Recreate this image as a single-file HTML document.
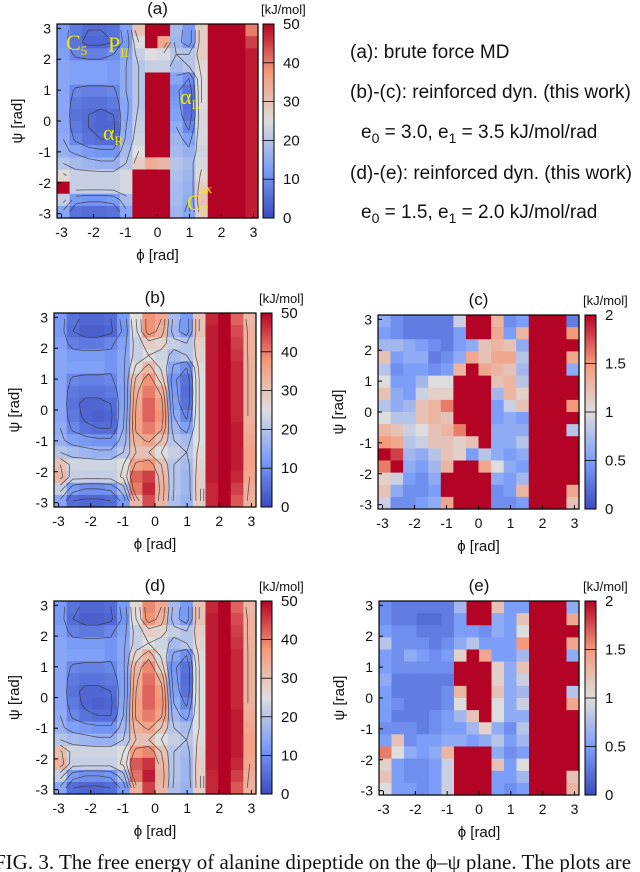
<!DOCTYPE html>
<html><head><meta charset="utf-8"><style>
html,body{margin:0;padding:0;background:#fff;}
svg{display:block;font-family:"Liberation Sans",sans-serif;}
</style></head><body>
<svg id="fig" width="640" height="872" viewBox="0 0 640 872" xmlns="http://www.w3.org/2000/svg">
<g font-size="19" fill="#111">
<text x="350" y="58">(a): brute force MD</text>
<text x="350" y="98">(b)-(c): reinforced dyn. (this work)</text>
<text x="361" y="138">e<tspan font-size="14" dy="5">0</tspan><tspan dy="-5"> = 3.0, e</tspan><tspan font-size="14" dy="5">1</tspan><tspan dy="-5"> = 3.5 kJ/mol/rad</tspan></text>
<text x="350" y="179">(d)-(e): reinforced dyn. (this work)</text>
<text x="361" y="218">e<tspan font-size="14" dy="5">0</tspan><tspan dy="-5"> = 1.5, e</tspan><tspan font-size="14" dy="5">1</tspan><tspan dy="-5"> = 2.0 kJ/mol/rad</tspan></text>
</g>
<text x="-6" y="869" font-family="Liberation Serif, serif" font-size="21" fill="#111">FIG. 3.  The free energy of alanine dipeptide on the ϕ–ψ plane. The plots are</text>
</svg>
<script>
const fesA=[
[12,7,5,5,6,13,30,50,50,18,12,28,50,50,50,40],
[12,6,4,4,5,12,25,50,35,17,12,28,50,50,50,45],
[13,9,8,8,10,14,22,25,24,20,20,28,50,50,50,48],
[14,13,13,13,12,15,20,22,22,18,20,26,50,50,50,48],
[14,13,13,13,12,15,20,50,50,14,10,25,50,50,50,48],
[14,9,8,8,9,15,20,50,50,11,6,25,50,50,50,48],
[14,7,6,6,7,14,20,50,50,12,5,25,50,50,50,48],
[14,6,5,4,5,14,21,50,50,13,6,24,50,50,50,48],
[14,7,5,4,4,15,22,50,50,15,9,24,50,50,50,48],
[15,9,6,5,5,16,23,50,50,17,13,24,50,50,50,48],
[16,14,12,11,11,18,25,50,50,18,16,23,50,50,50,48],
[20,18,17,16,16,20,28,34,32,20,18,24,50,50,50,48],
[26,22,22,22,22,24,50,50,50,19,17,26,50,50,50,48],
[50,22,22,22,22,24,50,50,50,18,16,28,50,50,50,48],
[22,12,11,11,12,18,50,50,50,18,15,30,50,50,50,48],
[14,6,5,5,6,14,50,50,50,17,14,28,50,50,50,48]];
const fesB=[
[12,6,4,4,5,12,25,38,35,18,12,30,47,50,42,32],
[12,5,3,3,4,11,24,38,33,17,12,30,48,50,44,33],
[13,8,7,7,9,13,22,28,27,22,20,28,48,50,45,33],
[14,12,12,12,11,14,22,25,23,18,20,27,48,50,46,33],
[14,13,13,13,11,14,26,32,24,14,10,26,48,50,47,33],
[14,9,8,8,9,14,31,38,28,11,6,25,48,50,47,33],
[14,7,6,6,7,13,34,40,34,12,5,25,48,50,47,33],
[14,6,4,4,5,13,35,42,37,13,6,25,48,50,47,33],
[14,7,4,3,4,14,36,42,38,15,9,25,48,50,47,33],
[15,9,6,5,5,15,36,40,36,17,13,25,48,50,48,34],
[16,13,12,11,11,17,33,36,30,20,18,25,48,50,48,35],
[20,18,17,16,16,20,30,30,25,22,20,26,48,50,48,36],
[30,23,23,23,23,25,36,38,30,20,18,27,48,50,48,36],
[32,22,22,22,22,26,42,45,32,20,17,28,48,50,47,35],
[22,12,10,10,11,18,40,47,33,20,17,28,47,50,45,34],
[14,5,4,4,5,12,32,44,32,19,16,28,47,50,43,33]];
const fesD=[
[12,6,4,4,5,12,26,39,35,18,12,30,47,50,42,32],
[12,5,3,3,4,11,25,38,33,17,12,30,48,50,44,33],
[13,8,7,7,9,13,22,28,27,22,20,28,48,50,45,33],
[14,12,12,12,11,14,22,25,23,18,20,27,48,50,46,33],
[14,13,13,13,11,14,27,33,24,14,10,26,48,50,47,33],
[14,9,8,8,9,14,32,39,28,11,6,25,48,50,47,33],
[14,7,6,6,7,13,34,41,34,12,5,25,48,50,47,33],
[14,6,4,4,5,13,35,42,37,13,6,25,48,50,47,33],
[14,7,4,3,4,14,36,42,38,15,9,25,48,50,47,33],
[15,9,6,5,5,15,36,40,36,17,13,25,48,50,48,34],
[16,13,12,11,11,17,33,36,30,20,18,25,48,50,48,35],
[20,18,17,16,16,20,30,30,25,22,20,26,48,50,48,36],
[31,23,23,23,23,25,37,39,30,20,18,27,48,50,48,36],
[33,22,22,22,22,26,43,46,32,20,17,28,48,50,47,35],
[22,12,10,10,11,18,41,48,33,20,17,28,47,50,45,34],
[14,5,4,4,5,12,33,45,32,19,16,28,47,50,43,33]];
const errC=[
[0.6,0.4,0.3,0.3,0.3,0.3,0.9,2,2,1.3,0.4,0.5,2,2,2,0.3],
[0.5,0.4,0.3,0.3,0.3,0.3,0.5,2,2,1.4,0.5,1.3,2,2,2,1.5],
[0.7,0.7,0.6,0.5,0.4,0.3,0.5,0.6,1.2,1.3,1.2,0.6,2,2,2,2],
[1.2,0.5,0.6,0.6,0.3,0.4,0.6,1.4,1.2,1.4,1.4,0.8,2,2,2,1.4],
[0.8,0.4,0.5,0.5,0.4,0.5,1.3,2,1.4,1.3,1.2,0.7,2,2,2,0.6],
[1.0,0.5,0.5,0.7,1.0,1.0,2,2,2,1.2,1.3,0.8,2,2,2,2],
[1.2,0.6,0.5,0.9,1.1,1.1,2,2,2,0.7,1.3,1.1,2,2,2,2],
[0.8,0.6,0.7,1.2,1.3,1.6,2,2,2,0.5,0.9,1.2,2,2,2,1.5],
[1.0,0.8,0.8,1.2,1.3,1.2,2,2,2,0.5,0.6,0.5,2,2,2,2],
[1.3,1.2,0.9,1.0,1.2,1.3,1.6,2,2,0.6,0.6,0.6,2,2,2,0.8],
[1.5,1.4,0.8,0.9,1.2,1.2,1.1,1.2,2,0.6,0.6,0.8,2,2,2,2],
[2,1.8,0.7,0.6,0.8,1.2,1.1,0.5,0.8,0.6,0.5,0.6,2,2,2,2],
[1.6,2,0.6,0.5,0.7,1.3,2,2,1.4,1.0,0.6,0.5,2,2,2,2],
[1.1,0.9,0.5,0.4,0.6,2,2,2,2,0.6,0.5,0.7,2,2,2,2],
[1.2,0.6,0.4,0.4,0.5,2,2,2,2,0.4,0.5,1.3,2,2,2,1.4],
[0.9,0.4,0.4,0.5,0.6,1.4,2,2,2,0.4,0.4,0.5,2,2,2,1.2]];
const errE=[
[0.4,0.3,0.3,0.3,0.3,0.3,0.7,2,2,1.2,0.5,0.5,2,2,2,0.6],
[0.4,0.3,0.3,0.2,0.2,0.3,0.5,2,2,0.6,0.5,1.2,2,2,2,1.4],
[0.5,0.4,0.4,0.3,0.3,0.3,0.5,0.5,0.4,0.6,0.5,1.0,2,2,2,2],
[0.8,0.4,0.4,0.4,0.3,0.4,0.6,0.8,0.5,0.5,0.5,1.5,2,2,2,1.4],
[0.5,0.4,0.6,0.5,0.4,0.5,1.1,2,1.4,0.5,0.5,0.7,2,2,2,0.6],
[0.5,0.4,0.4,0.4,0.4,0.4,2,2,2,1.1,0.6,1.2,2,2,2,2],
[0.6,0.3,0.3,0.3,0.3,0.3,2,2,2,1.1,0.6,0.9,2,2,2,2],
[0.5,0.3,0.3,0.3,0.3,0.4,1.3,2,2,1.2,0.6,0.7,2,2,2,0.8],
[0.5,0.4,0.3,0.3,0.3,0.4,1.0,2,2,1.0,0.6,0.9,2,2,2,1.4],
[0.5,0.3,0.3,0.3,0.4,0.5,0.7,1.2,2,1.0,0.6,0.6,2,2,2,2],
[0.4,0.4,0.4,0.3,0.4,0.5,0.5,0.7,1.1,0.6,0.4,0.8,2,2,2,2],
[0.5,1.2,0.4,0.5,0.5,0.6,0.6,0.5,0.6,0.8,0.5,0.7,2,2,2,2],
[1.6,1.0,0.6,0.5,0.6,1.3,2,2,2,0.6,0.4,0.5,2,2,2,2],
[1.1,0.5,0.4,0.4,0.5,0.9,2,2,2,1.2,0.5,1.0,2,2,2,2],
[1.2,0.5,0.4,0.4,0.5,0.9,2,2,2,0.5,0.5,0.7,2,2,2,1.2],
[1.0,0.5,0.5,0.4,0.5,0.9,2,2,2,0.5,0.4,0.5,2,2,2,1.3]];
const axisTicks=[-3,-2,-1,0,1,2,3];
const fesTicks=[0,10,20,30,40,50];
const errTicks=[0,0.5,1,1.5,2];
const fesLevels=[5,10,15,20,25,30,35];

const NS='http://www.w3.org/2000/svg';
const svg=document.getElementById('fig');
function el(tag,attrs,parent){const e=document.createElementNS(NS,tag);for(const k in attrs)e.setAttribute(k,attrs[k]);(parent||svg).appendChild(e);return e;}
const stops=[[0,[59,76,192]],[0.25,[124,158,248]],[0.5,[221,221,221]],[0.75,[244,154,123]],[1,[180,4,38]]];
function cmap(t){t=Math.max(0,Math.min(1,t));for(let i=1;i<stops.length;i++){if(t<=stops[i][0]){const a=stops[i-1],b=stops[i];const f=(t-a[0])/(b[0]-a[0]);const c=a[1].map((v,j)=>Math.round(v+(b[1][j]-v)*f));return 'rgb('+c.join(',')+')';}}return 'rgb(180,4,38)';}

function panel(opt){
  const {id,x0,y0,w,h,data,vmax,cbx,ticks,contours,title}=opt;
  const g=el('g',{});
  
  
  const n=data.length,m=data[0].length;
  const xs=v=>x0+(v+Math.PI)/(2*Math.PI)*w;
  const ys=v=>y0+(Math.PI-v)/(2*Math.PI)*h;
  const cw=w/m,ch=h/n;
  for(let r=0;r<n;r++)for(let c=0;c<m;c++){
    const phi=-Math.PI+c*2*Math.PI/m, psi=Math.PI-r*2*Math.PI/n;
    const cell=el('rect',{x:xs(phi).toFixed(2),y:ys(psi).toFixed(2),width:(cw+0.6).toFixed(2),height:(ch+0.6).toFixed(2),fill:cmap(data[r][c]/vmax)},g);
    
    
  }
  if(contours){
    const cx=c=>x0+(c+0.5)*cw, cy=r=>y0+(r+0.5)*ch;
    let d='';
    for(const L of contours){
      for(let r=0;r<n-1;r++)for(let c=0;c<m-1;c++){
        const v=[data[r][c],data[r][c+1],data[r+1][c+1],data[r+1][c]];
        if(v.some(z=>z>=48))continue;
        const p=[[cx(c),cy(r)],[cx(c+1),cy(r)],[cx(c+1),cy(r+1)],[cx(c),cy(r+1)]];
        const pts=[];
        for(let k=0;k<4;k++){const a=v[k],b=v[(k+1)%4];if((a<L)!==(b<L)){const f=(L-a)/(b-a);const A=p[k],B=p[(k+1)%4];pts.push([A[0]+(B[0]-A[0])*f,A[1]+(B[1]-A[1])*f]);}}
        for(let k=0;k+1<pts.length;k+=2)d+='M'+pts[k][0].toFixed(1)+' '+pts[k][1].toFixed(1)+'L'+pts[k+1][0].toFixed(1)+' '+pts[k+1][1].toFixed(1);
      }
    }
    const cl=el('path',{d:d,stroke:'#333',fill:'none','stroke-width':'0.8','stroke-opacity':'0.75'},g);
    
    
  }
  const frame=el('rect',{x:x0,y:y0,width:w,height:h,fill:'none',stroke:'#000','stroke-width':'1.2'},g);
  
  
  for(const t of axisTicks){
    const tx=el('text',{x:xs(t),y:y0+h+19,'font-size':'14','text-anchor':'middle',fill:'#111'},g);tx.textContent=t;
    
    
    const ty=el('text',{x:x0-6,y:ys(t)+5,'font-size':'14','text-anchor':'end',fill:'#111'},g);ty.textContent=t;
    
    
    el('line',{x1:xs(t),x2:xs(t),y1:y0+h,y2:y0+h-4,stroke:'#000'},g);
    el('line',{x1:x0,x2:x0+4,y1:ys(t),y2:ys(t),stroke:'#000'},g);
  }
  const xt=el('text',{x:x0+w/2,y:y0+h+42,'font-size':'15','text-anchor':'middle',fill:'#111'},g);xt.textContent='ϕ [rad]';
  
  
  const yt=el('text',{x:0,y:0,'font-size':'15','text-anchor':'middle',fill:'#111',transform:'translate('+(x0-35)+','+(y0+h/2)+') rotate(-90)'},g);yt.textContent='ψ [rad]';
  
  
  const tt=el('text',{x:x0+w/2,y:y0-10,'font-size':'17','text-anchor':'middle',fill:'#111'},g);tt.textContent=title;
  
  
  const gid='grad'+id;
  const defs=el('defs',{},g);
  const lg=el('linearGradient',{id:gid,x1:0,y1:1,x2:0,y2:0},defs);
  for(let i=0;i<=20;i++)el('stop',{offset:(i/20),'stop-color':cmap(i/20)},lg);
  const cb=el('rect',{x:cbx,y:y0,width:11,height:h,fill:'url(#'+gid+')',stroke:'#000','stroke-width':'1'},g);
  
  
  for(const t of ticks){
    const yy=y0+h-(t/vmax)*h;
    el('line',{x1:cbx,x2:cbx+11,y1:yy,y2:yy,stroke:'#000','stroke-width':'0.8'},g);
    const lb=el('text',{x:cbx+20,y:yy+5,'font-size':'15',fill:'#111'},g);lb.textContent=t;
    
    
  }
  const un=el('text',{x:cbx-2,y:y0-10,'font-size':'13',fill:'#111'},g);un.textContent='[kJ/mol]';
  
  
  return g;
}
panel({id:'a',x0:57,y0:24,w:201,h:194,data:fesA,vmax:50,cbx:263,ticks:fesTicks,contours:fesLevels,title:'(a)'});
panel({id:'b',x0:54,y0:313,w:202,h:194,data:fesB,vmax:50,cbx:261,ticks:fesTicks,contours:fesLevels,title:'(b)'});
panel({id:'c',x0:378,y0:315,w:201,h:194,data:errC,vmax:2,cbx:585,ticks:errTicks,contours:null,title:'(c)'});
panel({id:'d',x0:54,y0:601,w:202,h:193,data:fesD,vmax:50,cbx:261,ticks:fesTicks,contours:fesLevels,title:'(d)'});
panel({id:'e',x0:379,y0:601,w:200,h:194,data:errE,vmax:2,cbx:585,ticks:errTicks,contours:null,title:'(e)'});
const labs=[['C','5',66,50],['P','II',108,52],['α','R',103,140],['α','L',180,104],['C','7',187,210]];
for(const L of labs){
  const t=el('text',{x:L[2],y:L[3],'font-family':'Liberation Serif, serif','font-size':'22',fill:'#f2e600'});
  
  
  t.textContent=L[0];
  const s=el('tspan',{'font-size':'13',dy:'5'},t);s.textContent=L[1];
}
const ax=el('text',{x:200,y:193,'font-family':'Liberation Serif, serif','font-size':'13',fill:'#f2e600'});


ax.textContent='ax';
</script>
</body></html>
